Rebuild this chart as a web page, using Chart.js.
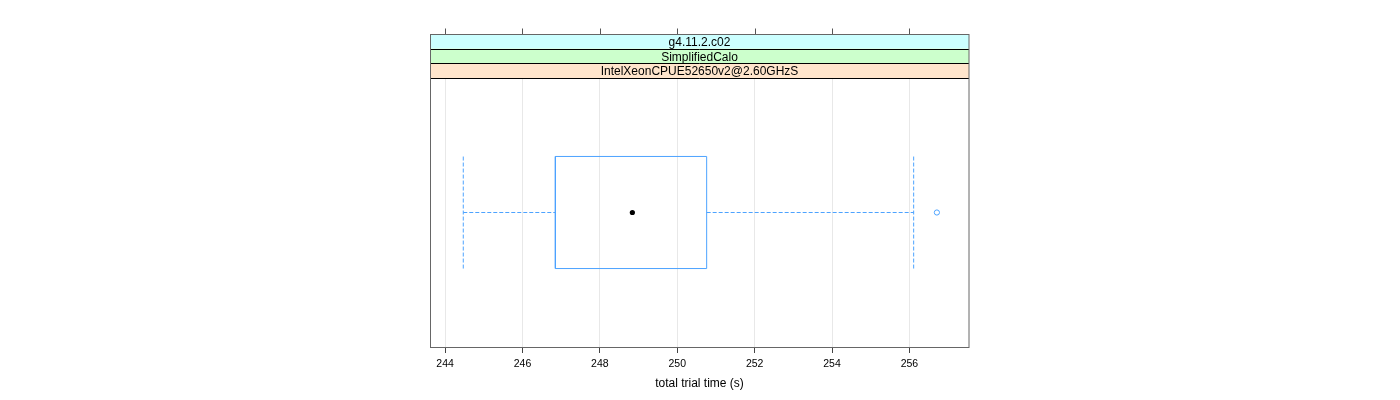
<!DOCTYPE html>
<html>
<head>
<meta charset="utf-8">
<script src="https://cdn.jsdelivr.net/npm/chart.js@4.4.1/dist/chart.umd.min.js"></script>
<style>
  html, body { margin: 0; padding: 0; background: #ffffff; }
  canvas { display: block; }
</style>
</head>
<body>
<canvas id="c" width="1400" height="400"></canvas>
<script>
// ---- data ----
const stripLabels = ['g4.11.2.c02', 'SimplifiedCalo', 'IntelXeonCPUE52650v2@2.60GHzS'];
const stripColors = ['#ccffff', '#ccffcc', '#ffe5cc'];
const boxStats = [244.47, 246.85, 248.84, 250.76, 256.11]; // lower whisker, Q1, median, Q3, upper whisker
const outliers = [256.71];
const tickValues = [244, 246, 248, 250, 252, 254, 256];
const xLimits = [243.61, 257.54];
const axisTitle = 'total trial time (s)';

const pos = 1;            // the single box sits at y = 1
const half = 0.25;        // half of box height (box.ratio = 1)
const [wlo, q1, med, q3, whi] = boxStats;
const blue = '#4da3ff';
const FONT = '"Liberation Sans", Arial, Helvetica, sans-serif';

const lineDs = (data, dashed) => ({
  type: 'scatter', data, showLine: true, borderColor: blue, borderWidth: 1,
  borderDash: dashed ? [4, 2] : [], pointRadius: 0, pointHoverRadius: 0, fill: false, tension: 0
});

const datasets = [
  lineDs([{x: wlo, y: pos}, {x: q1, y: pos}], true),
  lineDs([{x: q3, y: pos}, {x: whi, y: pos}], true),
  lineDs([{x: wlo, y: pos - half}, {x: wlo, y: pos + half}], true),
  lineDs([{x: whi, y: pos - half}, {x: whi, y: pos + half}], true),
  lineDs([{x: q1, y: pos - half}, {x: q3, y: pos - half}, {x: q3, y: pos + half}, {x: q1, y: pos + half}, {x: q1, y: pos - half}], false),
  { type: 'scatter', data: [{x: med, y: pos}], pointRadius: 2.6, pointBackgroundColor: '#000', pointBorderColor: '#000', borderWidth: 0 },
  { type: 'scatter', data: outliers.map(v => ({x: v, y: pos})), pointRadius: 2.6, pointBackgroundColor: 'rgba(0,0,0,0)', pointBorderColor: blue, pointBorderWidth: 1 }
];

const stripPlugin = {
  id: 'strips',
  afterDraw(chart) {
    const ctx = chart.ctx;
    const xs = chart.scales.x;
    const area = chart.chartArea;
    const L = area.left, R = area.right;
    const stripH = (area.top - 34) / stripLabels.length;
    ctx.save();
    // strips
    stripLabels.forEach((lab, i) => {
      const y0 = 34 + i * stripH;
      ctx.fillStyle = stripColors[i];
      ctx.fillRect(L, y0, R - L, stripH);
    });
    ctx.strokeStyle = '#000';
    ctx.lineWidth = 1;
    for (let i = 1; i <= stripLabels.length; i++) {
      const y = Math.round(34 + i * stripH) + 0.5;
      ctx.beginPath(); ctx.moveTo(L, y); ctx.lineTo(R, y); ctx.stroke();
    }
    ctx.fillStyle = '#000';
    ctx.font = '12px ' + FONT;
    ctx.textAlign = 'center';
    ctx.textBaseline = 'middle';
    stripLabels.forEach((lab, i) => {
      ctx.fillText(lab, (L + R) / 2, 34 + (i + 0.5) * stripH + 1.2);
    });
    // panel border
    ctx.strokeStyle = '#666';
    ctx.strokeRect(Math.round(L) + 0.5, 34.5, Math.round(R - L) - 0.5, Math.round(area.bottom) - 34);
    // top ticks
    ctx.strokeStyle = '#555';
    tickValues.forEach(v => {
      const x = Math.round(xs.getPixelForValue(v)) + 0.5;
      ctx.beginPath(); ctx.moveTo(x, 28.5); ctx.lineTo(x, 34); ctx.stroke();
    });
    ctx.restore();
  }
};

new Chart(document.getElementById('c'), {
  data: { datasets },
  options: {
    responsive: false,
    animation: false,
    layout: { padding: { left: 430, right: 431, top: 78, bottom: 0 } },
    plugins: { legend: { display: false }, tooltip: { enabled: false } },
    scales: {
      x: {
        type: 'linear', position: 'bottom',
        min: xLimits[0], max: xLimits[1],
        afterBuildTicks: s => { s.ticks = tickValues.map(v => ({ value: v })); },
        afterFit: s => { s.height = 53; },
        grid: { color: '#e8e8e8', tickColor: '#444', tickLength: 6, lineWidth: 1 },
        border: { display: false },
        ticks: { color: '#000', font: { size: 10.5, family: FONT }, padding: 4.5, maxRotation: 0, autoSkip: false },
        title: { display: true, text: axisTitle, color: '#000', font: { size: 12, family: FONT }, padding: { top: 0, bottom: 9 } }
      },
      y: { type: 'linear', display: false, min: 0.4, max: 1.6 }
    }
  },
  plugins: [stripPlugin]
});
</script>
</body>
</html>
